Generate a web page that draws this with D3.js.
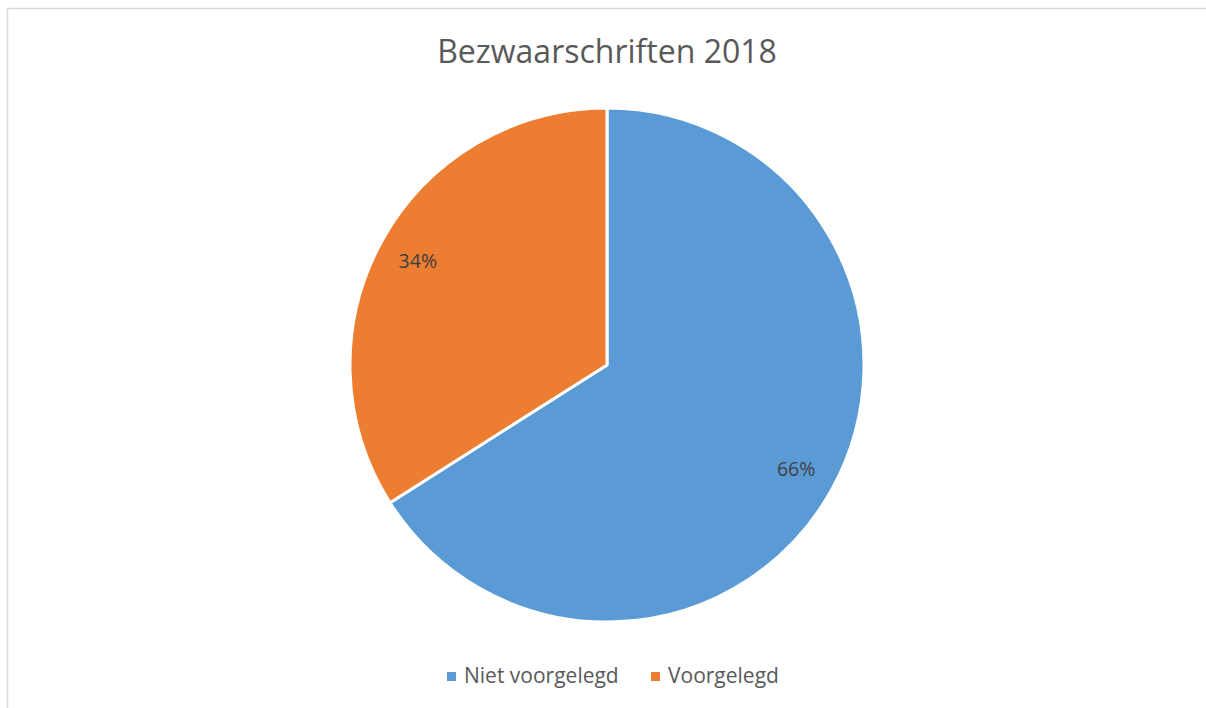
<!DOCTYPE html>
<html>
<head>
<meta charset="utf-8">
<script src="https://cdn.jsdelivr.net/npm/d3@7"></script>
<style>
  body { margin: 0; background: #fff; }
  svg { display: block; }
</style>
</head>
<body>
<div id="chart"></div>
<script>
const categories = ["Niet voorgelegd", "Voorgelegd"];
const values = [66, 34];
const colors = ["#5B9BD5", "#ED7D31"];
const chartTitle = "Bezwaarschriften 2018";

const width = 1206, height = 708;
const font = "'Open Sans', sans-serif";

const svg = d3.select("#chart")
    .append("svg")
    .attr("width", width)
    .attr("height", height);

// chart frame
svg.append("rect")
    .attr("x", 7.5)
    .attr("y", 8.5)
    .attr("width", width + 10)
    .attr("height", height + 10)
    .attr("fill", "#fff")
    .attr("stroke", "#d9d9d9")
    .attr("stroke-width", 1.5);

svg.append("text")
    .attr("x", 607)
    .attr("y", 63)
    .attr("text-anchor", "middle")
    .attr("font-family", font)
    .attr("font-size", "32px")
    .attr("fill", "#595959")
    .text(chartTitle);

const radius = 257;
const g = svg.append("g")
    .attr("transform", "translate(607,365)");

const pie = d3.pie().sort(null).value(d => d);
const arc = d3.arc().innerRadius(0).outerRadius(radius);
const labelArc = d3.arc().innerRadius(radius * 0.84).outerRadius(radius * 0.84);
const total = d3.sum(values);

const arcs = pie(values);

g.selectAll("path")
    .data(arcs)
    .enter().append("path")
    .attr("d", arc)
    .attr("fill", (d, i) => colors[i])
    .attr("stroke", "#fff")
    .attr("stroke-width", 3)
    .attr("stroke-linejoin", "round");

g.selectAll(".label")
    .data(arcs)
    .enter().append("text")
    .attr("class", "label")
    .attr("transform", d => `translate(${labelArc.centroid(d)})`)
    .attr("text-anchor", "middle")
    .attr("dy", "0.35em")
    .attr("font-family", font)
    .attr("font-size", "19.5px")
    .attr("fill", "#404040")
    .text(d => Math.round(d.data / total * 100) + "%");

// legend
const legendX = [447, 651];
const legend = svg.append("g");
const items = legend.selectAll("g")
    .data(categories)
    .enter().append("g")
    .attr("transform", (d, i) => `translate(${legendX[i]},0)`);

items.append("rect")
    .attr("x", 0)
    .attr("y", 672)
    .attr("width", 9)
    .attr("height", 9)
    .attr("fill", (d, i) => colors[i]);

items.append("text")
    .attr("x", 17)
    .attr("y", 683)
    .attr("font-family", font)
    .attr("font-size", "21px")
    .attr("fill", "#595959")
    .text(d => d);
</script>
</body>
</html>
